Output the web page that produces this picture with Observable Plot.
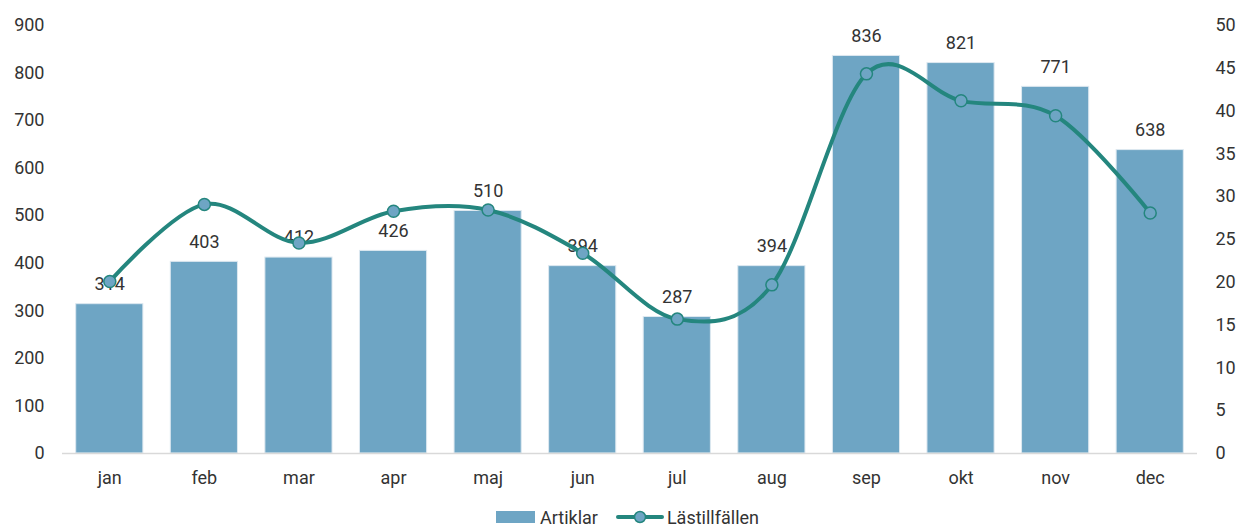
<!DOCTYPE html>
<html>
<head>
<meta charset="utf-8">
<script src="https://cdn.jsdelivr.net/npm/d3@7"></script>
<script src="https://cdn.jsdelivr.net/npm/@observablehq/plot@0.6"></script>
<style>
  html, body { margin: 0; padding: 0; background: #fff; }
  body { width: 1239px; height: 524px; overflow: hidden; font-family: Roboto, sans-serif; }
  #legend { display: flex; justify-content: center; align-items: center; gap: 0; height: 24px; font-size: 18px; color: #333; margin-left: 16px; }
  .item { display: flex; align-items: center; }
</style>
</head>
<body>
<div id="chart"></div>
<div id="legend"></div>
<script>
const months = ["jan","feb","mar","apr","maj","jun","jul","aug","sep","okt","nov","dec"];
const artiklar = [314, 403, 412, 426, 510, 394, 287, 394, 836, 821, 771, 638];
const lastillfallen = [20.1, 29.1, 24.6, 28.3, 28.45, 23.4, 15.7, 19.7, 44.35, 41.2, 39.45, 28.1];
const leftTicks = [0, 100, 200, 300, 400, 500, 600, 700, 800, 900];
const rightTicks = [0, 5, 10, 15, 20, 25, 30, 35, 40, 45, 50];
const seriesNames = ["Artiklar", "Lästillfällen"];

const barColor = "#6ea5c4";
const lineColor = "#24867e";
const textColor = "#333333";
const ratio = 900 / 50;

const data = months.map((m, i) => ({month: m, a: artiklar[i], l: lastillfallen[i] * ratio}));

const chart = Plot.plot({
  width: 1239,
  height: 505,
  marginTop: 25,
  marginBottom: 52,
  marginLeft: 62,
  marginRight: 42,
  style: {fontFamily: "Roboto, sans-serif", fontSize: "18px", color: textColor, background: "#fff"},
  x: {domain: months, paddingInner: 0.29, paddingOuter: 0.145, round: false, label: null},
  y: {domain: [0, 900], label: null},
  marks: [
    Plot.barY(data, {x: "month", y: "a", fill: barColor, stroke: "#dde8f0", strokeWidth: 1}),
    Plot.ruleY([0], {stroke: "#d9d9d9", strokeWidth: 1.5}),
    Plot.text(data, {x: "month", y: "a", text: d => String(d.a), dy: -20, fill: textColor, fontSize: 18}),
    Plot.line(data, {x: "month", y: "l", curve: "cardinal", tension: 0, stroke: lineColor, strokeWidth: 4}),
    Plot.dot(data, {x: "month", y: "l", r: 6, fill: barColor, stroke: lineColor, strokeWidth: 1.5}),
    Plot.axisX({tickSize: 0, tickPadding: 18, label: null, fontSize: 18}),
    Plot.axisY(leftTicks, {anchor: "left", tickSize: 0, tickPadding: 18, label: null, fontSize: 18}),
    Plot.axisY(rightTicks.map(v => v * ratio), {anchor: "right", tickSize: 0, tickPadding: 18, label: null, fontSize: 18, tickFormat: d => String(Math.round(d / ratio))})
  ]
});
document.getElementById("chart").appendChild(chart);

const legend = document.getElementById("legend");
legend.innerHTML = `
  <div class="item"><span style="display:inline-block;width:39px;height:12px;background:${barColor};margin-right:5px"></span><span>${seriesNames[0]}</span></div>
  <div class="item" style="margin-left:18px"><svg width="48" height="14" style="margin-right:3px"><line x1="2" y1="7" x2="46" y2="7" stroke="${lineColor}" stroke-width="4" stroke-linecap="round"/><circle cx="24" cy="7" r="5.5" fill="${barColor}" stroke="${lineColor}" stroke-width="1.5"/></svg><span>${seriesNames[1]}</span></div>
`;
</script>
</body>
</html>
